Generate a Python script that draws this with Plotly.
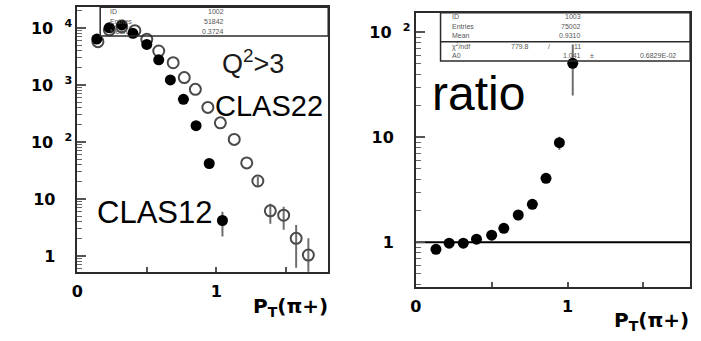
import plotly.graph_objects as go

# ---------------- data ----------------
clas12_pt = [0.14, 0.23, 0.32, 0.40, 0.50, 0.586, 0.67, 0.764, 0.855, 0.95, 1.045]
clas12_n = [6400, 10100, 11300, 8070, 5150, 2760, 1230, 560, 193, 42, 4.2]
clas12_err_up = [0, 0, 0, 0, 0, 0, 0, 0, 0, 0, 1.8]
clas12_err_dn = [0, 0, 0, 0, 0, 0, 0, 0, 0, 0, 2.0]

clas22_pt = [0.148, 0.23, 0.32, 0.414, 0.50, 0.586, 0.69, 0.77, 0.85, 0.94,
             1.03, 1.13, 1.22, 1.30, 1.39, 1.486, 1.576, 1.664]
clas22_n = [5750, 9300, 10500, 8970, 6330, 3950, 2460, 1350, 840, 405,
            217, 111, 43, 20.7, 6.2, 5.2, 2.04, 1.04]
clas22_err_up = [0, 0, 0, 0, 0, 0, 0, 0, 0, 0, 0, 0, 0, 4.0, 2.1, 2.1, 1.46, 1.0]
clas22_err_dn = [0, 0, 0, 0, 0, 0, 0, 0, 0, 0, 0, 0, 0, 3.8, 2.5, 2.3, 1.42, 0.7]

ratio_pt = [0.133, 0.22, 0.313, 0.40, 0.50, 0.58, 0.675, 0.768, 0.858, 0.946, 1.034]
ratio_val = [0.857, 0.98, 0.98, 1.07, 1.17, 1.36, 1.82, 2.30, 4.07, 8.9, 50.7]
ratio_err_up = [0, 0, 0, 0, 0, 0, 0, 0, 0, 1.25, 26]
ratio_err_dn = [0, 0, 0, 0, 0, 0, 0, 0, 0, 1.3, 25.7]
fit_A0 = 1.0

x_range = [0, 1.807]
x_tickvals = [0, 0.5, 1, 1.5]
x_ticktext = ["0", "", "1", ""]

PAD = "&nbsp;&nbsp;&nbsp;"
left_yticks = [1, 10, 100, 1000, 10000]
left_yticktext = ["1" + PAD, "10" + PAD, "10&nbsp;&nbsp;<sup>2</sup>",
                  "10&nbsp;&nbsp;<sup>3</sup>", "10&nbsp;&nbsp;<sup>4</sup>"]
right_yticks = [1, 10, 100]
right_yticktext = ["1" + PAD, "10" + PAD, "10&nbsp;&nbsp;<sup>2</sup>"]

stats_left = [("ID", "1002"), ("Entries", "51842"), ("Mean", "0.3724")]
stats_right = [("ID", "1003"), ("Entries", "75002"), ("Mean", "0.9310")]

# minor tick positions (2..9 within each decade)
left_minor = [d * 10 ** k for k in range(-1, 5) for d in range(2, 10)]
right_minor = [d * 10 ** k for k in range(-1, 3) for d in range(2, 10)]

# ---------------- figure ----------------
W, H = 701, 341
def px(x):
    return x / W
def py(y):
    return 1 - y / H

fig = go.Figure()

LINE = "#2b2b2b"
ERR = "#6e6e6e"

fig.add_trace(go.Scatter(
    x=clas22_pt, y=clas22_n, mode="markers", xaxis="x", yaxis="y",
    marker=dict(symbol="circle-open", size=11, color="#4a4a4a", line=dict(width=2)),
    error_y=dict(type="data", symmetric=False, array=clas22_err_up,
                 arrayminus=clas22_err_dn, color=ERR, thickness=2, width=0),
    showlegend=False, name="CLAS22"))
fig.add_trace(go.Scatter(
    x=clas12_pt, y=clas12_n, mode="markers", xaxis="x", yaxis="y",
    marker=dict(symbol="circle", size=11, color="black"),
    error_y=dict(type="data", symmetric=False, array=clas12_err_up,
                 arrayminus=clas12_err_dn, color=ERR, thickness=2, width=0),
    showlegend=False, name="CLAS12"))

fig.add_trace(go.Scatter(
    x=x_range, y=[fit_A0, fit_A0], mode="lines", xaxis="x2", yaxis="y2",
    line=dict(color="black", width=2), showlegend=False, hoverinfo="skip"))
fig.add_trace(go.Scatter(
    x=ratio_pt, y=ratio_val, mode="markers", xaxis="x2", yaxis="y2",
    marker=dict(symbol="circle", size=11, color="black"),
    error_y=dict(type="data", symmetric=False, array=ratio_err_up,
                 arrayminus=ratio_err_dn, color=ERR, thickness=2, width=0),
    showlegend=False, name="ratio"))

tickfont = dict(family="DejaVu Sans", size=16, color="black")
common_x = dict(type="linear", range=x_range, tickmode="array", tickvals=x_tickvals,
                ticktext=[f"<b>{t}</b>" if t else "" for t in x_ticktext],
                ticks="inside", ticklen=5, tickwidth=1.5,
                tickcolor="#555", showline=True, linecolor=LINE, linewidth=2,
                mirror=True, showgrid=False, zeroline=False,
                tickfont=tickfont, ticklabelstandoff=4)
common_y = dict(type="log", tickmode="array", ticks="inside", ticklen=9, tickwidth=1.5,
                tickcolor="#555", showline=True, linecolor=LINE, linewidth=2,
                mirror=True, showgrid=False, zeroline=False, tickfont=tickfont)

fig.update_layout(
    width=W, height=H, margin=dict(l=0, r=0, t=0, b=0),
    paper_bgcolor="white", plot_bgcolor="white",
    xaxis=dict(domain=[px(72), px(325)], anchor="y", **common_x),
    yaxis=dict(domain=[py(271.7), py(7.3)], anchor="x", range=[-0.275, 4.363],
               tickvals=left_yticks, ticktext=[f"<b>{t}</b>" for t in left_yticktext],
               minor=dict(tickmode="array", tickvals=left_minor, ticks="inside",
                          ticklen=5, tickwidth=1, tickcolor="#666", showgrid=False),
               **common_y),
    xaxis2=dict(domain=[px(413.3), px(690)], anchor="y2", **common_x),
    yaxis2=dict(domain=[py(286.7), py(12.7)], anchor="x2", range=[-0.423, 2.187],
                tickvals=right_yticks, ticktext=[f"<b>{t}</b>" for t in right_yticktext],
                minor=dict(tickmode="array", tickvals=right_minor, ticks="inside",
                           ticklen=5, tickwidth=1, tickcolor="#666", showgrid=False),
                **common_y),
)

shapes = []
annos = []
sfont = dict(family="Liberation Sans, Arial", size=7, color="#555")

# left stats box
shapes.append(dict(type="rect", xref="paper", yref="paper", x0=px(95), x1=px(325),
                   y0=py(36), y1=py(7.3), line=dict(color=LINE, width=1.5)))
for i, (k, v) in enumerate(stats_left):
    yy = 12 + i * 9.5
    annos.append(dict(x=px(103), y=py(yy), xref="paper", yref="paper", text=k,
                      showarrow=False, xanchor="left", yanchor="middle", font=sfont))
    annos.append(dict(x=px(222), y=py(yy), xref="paper", yref="paper", text=v,
                      showarrow=False, xanchor="right", yanchor="middle", font=sfont))

# right stats box
shapes.append(dict(type="rect", xref="paper", yref="paper", x0=px(438.3), x1=px(690),
                   y0=py(61), y1=py(12.7), line=dict(color=LINE, width=1.5)))
shapes.append(dict(type="line", xref="paper", yref="paper", x0=px(438.3), x1=px(690),
                   y0=py(41.7), y1=py(41.7), line=dict(color=LINE, width=1.5)))
for i, (k, v) in enumerate(stats_right):
    yy = 17 + i * 9
    annos.append(dict(x=px(448), y=py(yy), xref="paper", yref="paper", text=k,
                      showarrow=False, xanchor="left", yanchor="middle", font=sfont))
    annos.append(dict(x=px(582), y=py(yy), xref="paper", yref="paper", text=v,
                      showarrow=False, xanchor="right", yanchor="middle", font=sfont))
annos.append(dict(x=px(448), y=py(46), xref="paper", yref="paper", text="χ<sup>2</sup>/ndf",
                  showarrow=False, xanchor="left", yanchor="middle", font=sfont))
annos.append(dict(x=px(530), y=py(46), xref="paper", yref="paper", text="779.8",
                  showarrow=False, xanchor="right", yanchor="middle", font=sfont))
annos.append(dict(x=px(548), y=py(46), xref="paper", yref="paper", text="/",
                  showarrow=False, xanchor="center", yanchor="middle", font=sfont))
annos.append(dict(x=px(582), y=py(46), xref="paper", yref="paper", text="11",
                  showarrow=False, xanchor="right", yanchor="middle", font=sfont))
annos.append(dict(x=px(448), y=py(56), xref="paper", yref="paper", text="A0",
                  showarrow=False, xanchor="left", yanchor="middle", font=sfont))
annos.append(dict(x=px(582), y=py(56), xref="paper", yref="paper", text="1.041",
                  showarrow=False, xanchor="right", yanchor="middle", font=sfont))
annos.append(dict(x=px(591), y=py(56), xref="paper", yref="paper", text="±",
                  showarrow=False, xanchor="center", yanchor="middle", font=sfont))
annos.append(dict(x=px(678), y=py(56), xref="paper", yref="paper", text="0.6829E-02",
                  showarrow=False, xanchor="right", yanchor="middle", font=sfont))

# labels
big = "Liberation Sans, Arial"
annos.append(dict(x=px(249), y=py(62), xref="paper", yref="paper",
                  text="Q<sup>2</sup>&gt;3", showarrow=False, xanchor="center",
                  yanchor="middle", font=dict(family=big, size=27, color="#1a1a1a")))
annos.append(dict(x=px(265), y=py(106), xref="paper", yref="paper", text="CLAS22",
                  showarrow=False, xanchor="center", yanchor="middle",
                  font=dict(family=big, size=29, color="black")))
annos.append(dict(x=px(150), y=py(212), xref="paper", yref="paper", text="CLAS12",
                  showarrow=False, xanchor="center", yanchor="middle",
                  font=dict(family=big, size=31, color="black")))
annos.append(dict(x=px(477), y=py(93), xref="paper", yref="paper", text="ratio",
                  showarrow=False, xanchor="center", yanchor="middle",
                  font=dict(family=big, size=48, color="black")))

tfont = dict(family="DejaVu Sans", size=20, color="black")
annos.append(dict(x=px(327), y=py(307), xref="paper", yref="paper",
                  text="<b>P<sub>T</sub>(π+)</b>", showarrow=False, xanchor="right",
                  yanchor="middle", font=tfont))
annos.append(dict(x=px(691), y=py(321), xref="paper", yref="paper",
                  text="<b>P<sub>T</sub>(π+)</b>", showarrow=False, xanchor="right",
                  yanchor="middle", font=tfont))

fig.update_layout(shapes=shapes, annotations=annos)
fig.write_html("out.html")
